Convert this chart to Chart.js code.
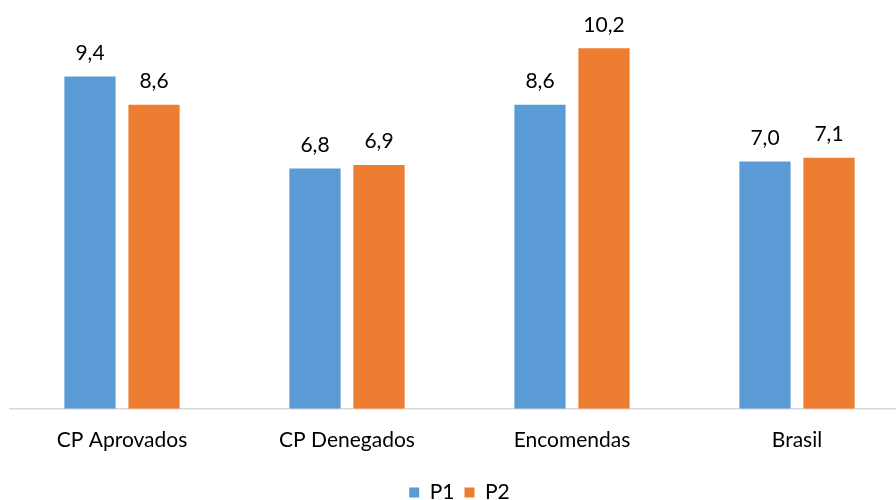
<!DOCTYPE html>
<html><head><meta charset="utf-8">
<script src="https://cdn.jsdelivr.net/npm/chart.js@4"></script>
<style>html,body{margin:0;padding:0;overflow:hidden;background:#fff;width:896px;height:500px}#wrap{width:920px;height:500px}</style>
</head><body><div id="wrap"><canvas id="c" width="920" height="500"></canvas></div>
<script>
const categories = ["CP Aprovados", "CP Denegados", "Encomendas", "Brasil"];
const seriesNames = ["P1", "P2"];
const p1Values = [9.4, 6.8, 8.6, 7.0];
const p2Values = [8.6, 6.9, 10.2, 7.1];
const FONT = "Lato";

const labelPlugin = {
  id: 'valueLabels',
  afterDatasetsDraw(chart) {
    const ctx = chart.ctx;
    ctx.save();
    ctx.font = "21px " + FONT;
    ctx.fillStyle = "#000";
    ctx.textAlign = "center";
    ctx.textBaseline = "bottom";
    chart.data.datasets.forEach((ds, di) => {
      const meta = chart.getDatasetMeta(di);
      meta.data.forEach((el, i) => {
        const txt = ds.data[i].toFixed(1).replace('.', ',');
        ctx.fillText(txt, el.x, el.y - 13);
      });
    });
    ctx.restore();
  }
};

new Chart(document.getElementById('c'), {
  type: 'bar',
  data: {
    labels: categories,
    datasets: [
      { label: seriesNames[0], data: p1Values, backgroundColor: '#5B9BD5', barPercentage: 0.8, categoryPercentage: 0.569 },
      { label: seriesNames[1], data: p2Values, backgroundColor: '#ED7D31', barPercentage: 0.8, categoryPercentage: 0.569 }
    ]
  },
  options: {
    responsive: false,
    animation: false,
    layout: { padding: { left: 9.5, right: 10.5, top: 20, bottom: -13 } },
    scales: {
      x: {
        grid: { display: false, drawTicks: false },
        border: { color: '#d9d9d9', width: 1.5 },
        ticks: { color: '#000', font: { family: FONT, size: 21 }, padding: 19 }
      },
      y: { display: false, min: 0, max: 11 }
    },
    plugins: {
      legend: {
        position: 'bottom',
        labels: { color: '#000', font: { family: FONT, size: 21 }, boxWidth: 10, boxHeight: 10, padding: 10 }
      },
      tooltip: { enabled: false }
    }
  },
  plugins: [labelPlugin]
});
</script></body></html>
